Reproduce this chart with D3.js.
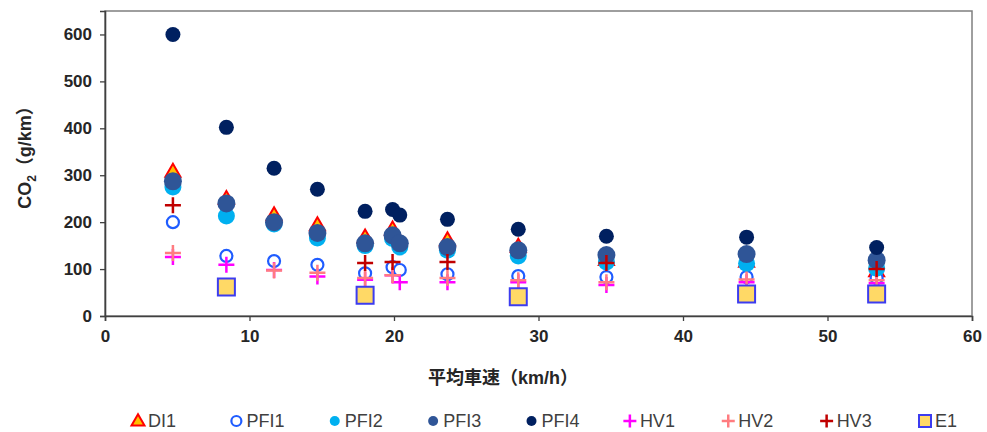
<!DOCTYPE html>
<html>
<head>
<meta charset="utf-8">
<script src="https://cdnjs.cloudflare.com/ajax/libs/d3/7.8.5/d3.min.js"></script>
<style>
    body { margin: 0; background: #fff; }
    text { font-family: "Liberation Sans", Arial, "Noto Sans CJK JP", sans-serif; }
</style>
</head>
<body>
<div id="scatterplot"></div>
<script>
// Average speeds (km/h) for each test cycle
var speeds = [4.7, 8.4, 11.7, 14.7, 18.0, 19.9, 20.4, 23.7, 28.6, 34.7, 44.4, 53.4];

// CO2 (g/km) per vehicle, null = not measured
var DI1  = [308, 250, 215, 194, 168, 185, null, 162, 148, 120, 116, 96];
var PFI1 = [200, 128, 117, 109, 91, 104, 98, 89, 85, 83, 83, 81];
var PFI2 = [275, 213, 196, 166, 150, 165, 147, 140, 128, 115, 112, 102];
var PFI3 = [287, 240, 200, 177, 155, 172, 155, 147, 140, 130, 132, 119];
var PFI4 = [600, 402, 315, 270, 223, 227, 215, 206, 185, 170, 168, 146];
var HV1  = [126, 109, 98, 84, 77, 87, 72, 72, 72, 66, 72, 70];
var HV2  = [134, null, 97, 92, 81, 87, null, 81, 76, 72, 78, 76];
var HV3  = [236, null, null, null, 113, 115, null, 115, null, 113, null, 100];
var E1   = [null, 62, null, null, 44, null, null, null, 41, null, 47, 47];

var seriesNames = ["DI1", "PFI1", "PFI2", "PFI3", "PFI4", "HV1", "HV2", "HV3", "E1"];
var seriesValues = [DI1, PFI1, PFI2, PFI3, PFI4, HV1, HV2, HV3, E1];

var xTicks = [0, 10, 20, 30, 40, 50, 60];
var yTicks = [0, 100, 200, 300, 400, 500, 600];

// Marker styles by series
var styles = {
    "DI1":  { shape: "triangle", fill: "#FFC000", stroke: "#FF0000", size: 15, sw: 2 },
    "PFI1": { shape: "circle", fill: "#fff", stroke: "#1F5CFF", size: 12, sw: 2.2 },
    "PFI2": { shape: "circle", fill: "#00B0F0", stroke: "none", size: 17, sw: 0 },
    "PFI3": { shape: "circle", fill: "#2F5597", stroke: "none", size: 18, sw: 0 },
    "PFI4": { shape: "circle", fill: "#002060", stroke: "none", size: 15, sw: 0 },
    "HV1":  { shape: "plus", fill: "none", stroke: "#FF00FF", size: 16, sw: 2.5 },
    "HV2":  { shape: "plus", fill: "none", stroke: "#FF7C80", size: 16, sw: 2.5 },
    "HV3":  { shape: "plus", fill: "none", stroke: "#C00000", size: 16, sw: 2.5 },
    "E1":   { shape: "square", fill: "#FFD966", stroke: "#3C3CF0", size: 17, sw: 2 }
};

function markerPath(shape, s) {
    var h = s / 2;
    switch (shape) {
        case "circle":
            return "M" + h + ",0A" + h + "," + h + " 0 1,1 " + (-h) + ",0A" + h + "," + h + " 0 1,1 " + h + ",0Z";
        case "triangle":
            var th = s * 0.866;
            return "M0," + (-th * 0.6) + "L" + h + "," + (th * 0.4) + "L" + (-h) + "," + (th * 0.4) + "Z";
        case "square":
            return "M" + (-h) + "," + (-h) + "H" + h + "V" + h + "H" + (-h) + "Z";
        case "plus":
            return "M" + (-h) + ",0H" + h + "M0," + (-h) + "V" + h;
    }
}

// Size settings
var margin = { top: 11, right: 15, bottom: 116, left: 105 };
var width = 987 - margin.left - margin.right,
    height = 432 - margin.top - margin.bottom;

var xScale = d3.scaleLinear().domain([0, 60]).range([0, width]);
var yScale = d3.scaleLinear().domain([0, 650]).range([height, 0]);

var svg = d3.select("#scatterplot").append("svg")
    .attr("width", 987)
    .attr("height", 432);

var g = svg.append("g")
    .attr("transform", "translate(" + margin.left + "," + margin.top + ")");

// Plot area frame
g.append("rect")
    .attr("width", width)
    .attr("height", height)
    .attr("fill", "none")
    .attr("stroke", "#7f7f7f")
    .attr("stroke-width", 1.5);

var xAxis = d3.axisBottom(xScale).tickValues(xTicks).tickSize(5).tickPadding(9);
var yAxis = d3.axisLeft(yScale).tickValues(yTicks).tickSize(5).tickPadding(8);

var gx = g.append("g")
    .attr("class", "x axis")
    .attr("transform", "translate(0," + height + ")")
    .call(xAxis);

var gy = g.append("g")
    .attr("class", "y axis")
    .call(yAxis);

[gx, gy].forEach(function(ax) {
    ax.select(".domain").attr("stroke", "#404040").attr("stroke-width", 1.6);
    ax.selectAll(".tick line").attr("stroke", "#404040").attr("stroke-width", 1.3);
    ax.selectAll(".tick text")
        .attr("fill", "#262626")
        .style("font-size", "17px")
        .style("font-weight", "bold");
});

// Axis titles
svg.append("text")
    .attr("x", 503)
    .attr("y", 384)
    .attr("text-anchor", "middle")
    .attr("fill", "#262626")
    .style("font-size", "18px")
    .style("font-weight", "bold")
    .text("平均車速（km/h）");

var yTitle = svg.append("text")
    .attr("transform", "translate(31,153) rotate(-90)")
    .attr("text-anchor", "middle")
    .attr("fill", "#262626")
    .style("font-size", "18px")
    .style("font-weight", "bold");
yTitle.append("tspan").text("CO");
yTitle.append("tspan").attr("dy", 5).style("font-size", "12px").text("2");
yTitle.append("tspan").attr("dy", -5).text("（g/km）");

// Points, drawn series by series so later series sit on top
seriesNames.forEach(function(name, si) {
    var st = styles[name];
    var pts = [];
    for (let i = 0; i < speeds.length; i++) {
        if (seriesValues[si][i] != null) {
            pts.push({ x: speeds[i], y: seriesValues[si][i] });
        }
    }
    g.selectAll(".dot-" + name)
        .data(pts)
        .enter().append("path")
        .attr("class", "dot-" + name)
        .attr("transform", function(d) { return "translate(" + xScale(d.x) + "," + yScale(d.y) + ")"; })
        .attr("d", markerPath(st.shape, st.size))
        .attr("fill", st.fill)
        .attr("stroke", st.stroke)
        .attr("stroke-width", st.sw);
});

// Legend
var legendX = d3.scalePoint().domain(seriesNames).range([138, 925]);
var legend = svg.selectAll(".legend")
    .data(seriesNames)
    .enter().append("g")
    .attr("class", "legend")
    .attr("transform", function(d) { return "translate(" + legendX(d) + ",421)"; });

legend.append("path")
    .attr("d", function(d) {
        var st = styles[d];
        var s = st.shape == "circle" ? 10 : (st.shape == "square" ? 12 : 13);
        return markerPath(st.shape, s);
    })
    .attr("fill", function(d) { return styles[d].fill; })
    .attr("stroke", function(d) { return styles[d].stroke; })
    .attr("stroke-width", function(d) { return styles[d].sw; });

legend.append("text")
    .attr("x", 10)
    .attr("dy", "0.36em")
    .attr("fill", "#404040")
    .style("font-size", "18px")
    .text(function(d) { return d; });
</script>
</body>
</html>
